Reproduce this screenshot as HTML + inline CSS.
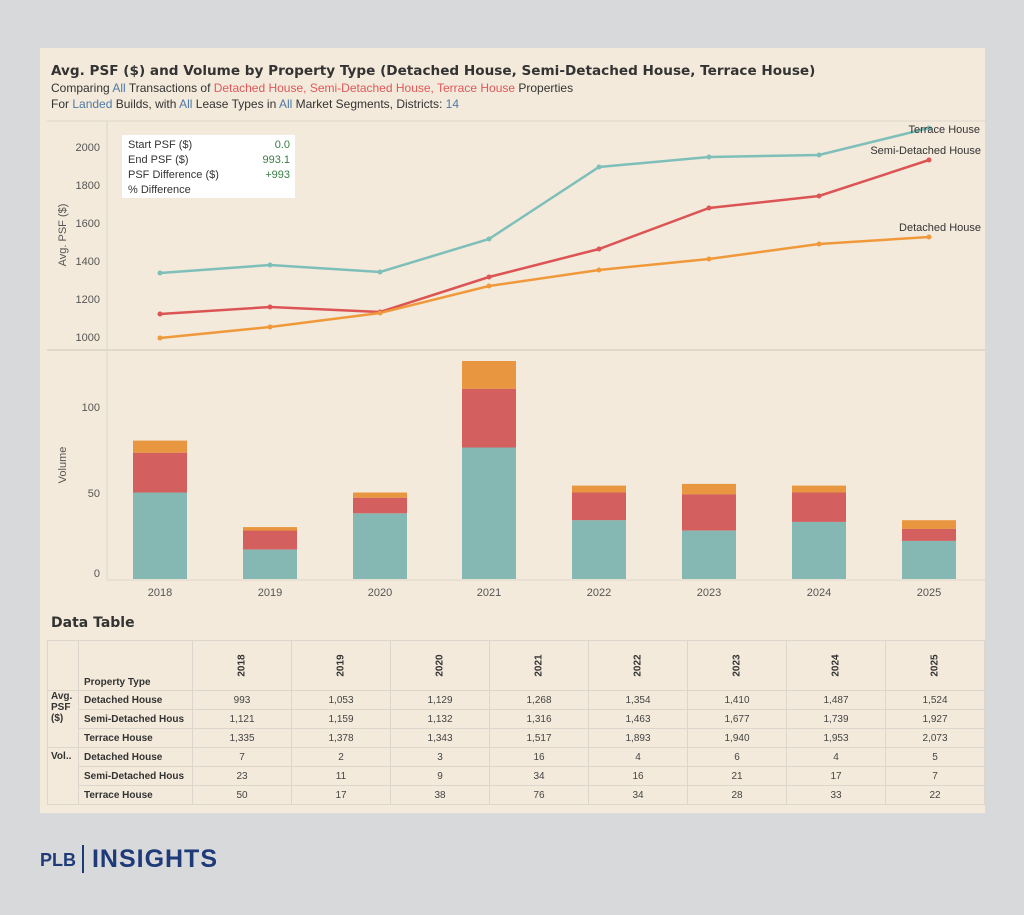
<!DOCTYPE html><html><head><meta charset="utf-8"><style>
body{margin:0;width:1024px;height:915px;background:#d8d9db;font-family:"Liberation Sans",sans-serif;position:relative;overflow:hidden}
.card{position:absolute;left:40px;top:48px;width:945px;height:765px;background:#f3eadb}
.t{position:absolute;white-space:nowrap;color:#333}
.b{color:#4e79a7}.r{color:#e15759}
table{position:absolute;left:47px;top:640px;border-collapse:collapse;font-size:10px;color:#444}
td{border:1px solid #dcd6cc;height:18px;padding:0;text-align:center}
td.p{text-align:left;font-weight:bold;color:#333;padding-left:5px;overflow:hidden;white-space:nowrap;max-width:108px}
</style></head><body>
<div class="card"></div>
<div class="t" style="left:51px;top:63px;font-size:13.6px;font-weight:bold;font-family:'DejaVu Sans',sans-serif">Avg. PSF ($) and Volume by Property Type (Detached House, Semi-Detached House, Terrace House)</div>
<div class="t" style="left:51px;top:81px;font-size:12px">Comparing <span class="b">All</span> Transactions of <span class="r">Detached House, Semi-Detached House, Terrace House</span> Properties</div>
<div class="t" style="left:51px;top:97px;font-size:12px">For <span class="b">Landed</span> Builds, with <span class="b">All</span> Lease Types in <span class="b">All</span> Market Segments, Districts: <span class="b">14</span></div>
<svg width="1024" height="915" style="position:absolute;left:0;top:0" font-family="Liberation Sans" font-size="11" fill="#555">
<line x1="47" y1="121" x2="985" y2="121" stroke="#ddd6cb"/>
<line x1="47" y1="350" x2="985" y2="350" stroke="#ccc6bb"/>
<line x1="107" y1="121" x2="107" y2="580" stroke="#ddd6cb"/>
<line x1="107" y1="580" x2="985" y2="580" stroke="#ddd6cb"/>
<g text-anchor="end"><text x="100" y="151">2000</text><text x="100" y="189">1800</text><text x="100" y="227">1600</text><text x="100" y="265">1400</text><text x="100" y="303">1200</text><text x="100" y="341">1000</text>
<text x="100" y="411">100</text><text x="100" y="497">50</text><text x="100" y="577">0</text></g>
<text transform="translate(66,235) rotate(-90)" text-anchor="middle">Avg. PSF ($)</text>
<text transform="translate(66,465) rotate(-90)" text-anchor="middle">Volume</text>
<rect x="122" y="135" width="173" height="63" fill="#fff"/>
<g font-size="11" fill="#333"><text x="128" y="148">Start PSF ($)</text><text x="128" y="163">End PSF ($)</text><text x="128" y="178">PSF Difference ($)</text><text x="128" y="193">% Difference</text></g>
<g font-size="11" fill="#3a7d44" text-anchor="end"><text x="290" y="148">0.0</text><text x="290" y="163">993.1</text><text x="290" y="178">+993</text></g>
<g fill="none" stroke-width="2.5">
<polyline stroke="#7fbfb9" points="160,273 270,265 380,272 489,239 599,167 709,157 819,155 929,128"/>
<polyline stroke="#dc5454" points="160,314 270,307 380,312 489,277 599,249 709,208 819,196 929,160"/>
<polyline stroke="#f0993a" points="160,338 270,327 380,313 489,286 599,270 709,259 819,244 929,237"/>
</g>
<g fill="#7fbfb9"><circle cx="160" cy="273" r="2.5"/><circle cx="270" cy="265" r="2.5"/><circle cx="380" cy="272" r="2.5"/><circle cx="489" cy="239" r="2.5"/><circle cx="599" cy="167" r="2.5"/><circle cx="709" cy="157" r="2.5"/><circle cx="819" cy="155" r="2.5"/><circle cx="929" cy="128" r="2.5"/></g>
<g fill="#dc5454"><circle cx="160" cy="314" r="2.5"/><circle cx="270" cy="307" r="2.5"/><circle cx="380" cy="312" r="2.5"/><circle cx="489" cy="277" r="2.5"/><circle cx="599" cy="249" r="2.5"/><circle cx="709" cy="208" r="2.5"/><circle cx="819" cy="196" r="2.5"/><circle cx="929" cy="160" r="2.5"/></g>
<g fill="#f0993a"><circle cx="160" cy="338" r="2.5"/><circle cx="270" cy="327" r="2.5"/><circle cx="380" cy="313" r="2.5"/><circle cx="489" cy="286" r="2.5"/><circle cx="599" cy="270" r="2.5"/><circle cx="709" cy="259" r="2.5"/><circle cx="819" cy="244" r="2.5"/><circle cx="929" cy="237" r="2.5"/></g>
<g fill="#333" text-anchor="end"><text x="980" y="133">Terrace House</text><text x="981" y="154">Semi-Detached House</text><text x="981" y="231">Detached House</text></g>
<g text-anchor="middle"><text x="160" y="596">2018</text><text x="270" y="596">2019</text><text x="380" y="596">2020</text><text x="489" y="596">2021</text><text x="599" y="596">2022</text><text x="709" y="596">2023</text><text x="819" y="596">2024</text><text x="929" y="596">2025</text></g>
<rect x="133" y="492.5" width="54" height="86.5" fill="#85b8b3"/><rect x="133" y="452.7" width="54" height="39.8" fill="#d45f5f"/><rect x="133" y="440.6" width="54" height="12.1" fill="#e8963f"/>
<rect x="243" y="549.6" width="54" height="29.4" fill="#85b8b3"/><rect x="243" y="530.5" width="54" height="19" fill="#d45f5f"/><rect x="243" y="527.1" width="54" height="3.5" fill="#e8963f"/>
<rect x="353" y="513.3" width="54" height="65.7" fill="#85b8b3"/><rect x="353" y="497.7" width="54" height="15.6" fill="#d45f5f"/><rect x="353" y="492.5" width="54" height="5.2" fill="#e8963f"/>
<rect x="462" y="447.5" width="54" height="131.5" fill="#85b8b3"/><rect x="462" y="388.7" width="54" height="58.8" fill="#d45f5f"/><rect x="462" y="361" width="54" height="27.7" fill="#e8963f"/>
<rect x="572" y="520.2" width="54" height="58.8" fill="#85b8b3"/><rect x="572" y="492.5" width="54" height="27.7" fill="#d45f5f"/><rect x="572" y="485.6" width="54" height="6.9" fill="#e8963f"/>
<rect x="682" y="530.6" width="54" height="48.4" fill="#85b8b3"/><rect x="682" y="494.2" width="54" height="36.3" fill="#d45f5f"/><rect x="682" y="483.9" width="54" height="10.4" fill="#e8963f"/>
<rect x="792" y="521.9" width="54" height="57.1" fill="#85b8b3"/><rect x="792" y="492.5" width="54" height="29.4" fill="#d45f5f"/><rect x="792" y="485.6" width="54" height="6.9" fill="#e8963f"/>
<rect x="902" y="540.9" width="54" height="38.1" fill="#85b8b3"/><rect x="902" y="528.8" width="54" height="12.1" fill="#d45f5f"/><rect x="902" y="520.2" width="54" height="8.7" fill="#e8963f"/>
<text x="51" y="627" font-size="14" font-weight="bold" fill="#333" font-family="DejaVu Sans">Data Table</text>
<text x="40" y="866" font-size="18" font-weight="bold" fill="#1e3a78">PLB</text>
<rect x="82" y="845" width="2" height="28" fill="#1e3a78"/>
<text x="92" y="867" font-size="25" font-weight="bold" fill="#1e3a78" textLength="125">INSIGHTS</text>
</svg>
<table>
<tr style="height:50px"><td style="width:30px"></td><td class="p" style="width:108px;vertical-align:bottom;padding-bottom:2px">Property Type</td>
<td style="width:98px"><div style="transform:rotate(-90deg);font-weight:bold;color:#333">2018</div></td><td style="width:98px"><div style="transform:rotate(-90deg);font-weight:bold;color:#333">2019</div></td><td style="width:98px"><div style="transform:rotate(-90deg);font-weight:bold;color:#333">2020</div></td><td style="width:98px"><div style="transform:rotate(-90deg);font-weight:bold;color:#333">2021</div></td><td style="width:98px"><div style="transform:rotate(-90deg);font-weight:bold;color:#333">2022</div></td><td style="width:98px"><div style="transform:rotate(-90deg);font-weight:bold;color:#333">2023</div></td><td style="width:98px"><div style="transform:rotate(-90deg);font-weight:bold;color:#333">2024</div></td><td style="width:98px"><div style="transform:rotate(-90deg);font-weight:bold;color:#333">2025</div></td></tr>
<tr><td rowspan="3" class="p" style="vertical-align:top;padding-left:3px">Avg.<br>PSF<br>($)</td><td class="p">Detached House</td><td>993</td><td>1,053</td><td>1,129</td><td>1,268</td><td>1,354</td><td>1,410</td><td>1,487</td><td>1,524</td></tr>
<tr><td class="p">Semi-Detached Hous</td><td>1,121</td><td>1,159</td><td>1,132</td><td>1,316</td><td>1,463</td><td>1,677</td><td>1,739</td><td>1,927</td></tr>
<tr><td class="p">Terrace House</td><td>1,335</td><td>1,378</td><td>1,343</td><td>1,517</td><td>1,893</td><td>1,940</td><td>1,953</td><td>2,073</td></tr>
<tr><td rowspan="3" class="p" style="vertical-align:top;padding-left:3px;padding-top:3px">Vol..</td><td class="p">Detached House</td><td>7</td><td>2</td><td>3</td><td>16</td><td>4</td><td>6</td><td>4</td><td>5</td></tr>
<tr><td class="p">Semi-Detached Hous</td><td>23</td><td>11</td><td>9</td><td>34</td><td>16</td><td>21</td><td>17</td><td>7</td></tr>
<tr><td class="p">Terrace House</td><td>50</td><td>17</td><td>38</td><td>76</td><td>34</td><td>28</td><td>33</td><td>22</td></tr>
</table>
</body></html>
